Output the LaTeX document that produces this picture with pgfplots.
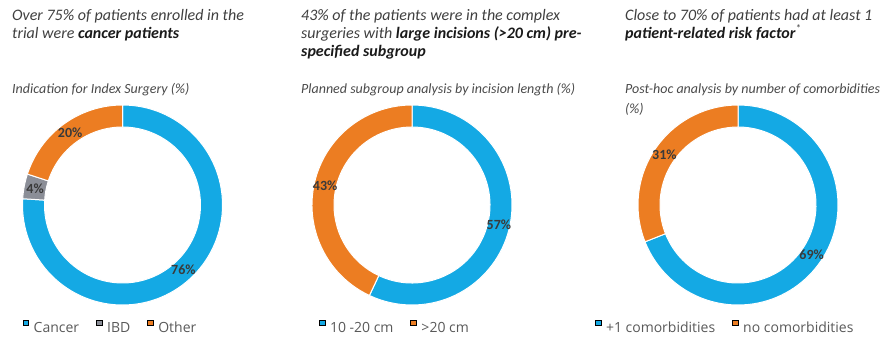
\documentclass[border=0pt]{standalone}
\usepackage{pgfplots}
\pgfplotsset{compat=1.18}
\usepackage{fontspec}
\setmainfont{Carlito}[ItalicFont={Carlito Italic}, BoldFont={Carlito Bold}, BoldItalicFont={Carlito Bold Italic}]
\newfontfamily\legendfont{Open Sans}
\usetikzlibrary{calc}

\definecolor{cblue}{HTML}{14A9E4}
\definecolor{corange}{HTML}{EC7D22}
\definecolor{cgray}{HTML}{8B8E97}
\definecolor{ctitle}{HTML}{3F3F3F}
\definecolor{csub}{HTML}{4A4A4A}
\definecolor{cbold}{HTML}{1A1A1A}
\definecolor{clabel}{HTML}{3A3A3A}
\definecolor{clegend}{HTML}{595959}

% donut segment: colour, from (%), to (%) -- clockwise from 12 o'clock
\newcommand{\donutseg}[3]{%
  \filldraw[fill=#1, draw=white, line width=1pt]
    ($(axis cs:0,0)+({90-3.6*(#2)}:100pt)$)
    arc[start angle={90-3.6*(#2)}, end angle={90-3.6*(#3)}, radius=100pt]
    -- ($(axis cs:0,0)+({90-3.6*(#3)}:78pt)$)
    arc[start angle={90-3.6*(#3)}, end angle={90-3.6*(#2)}, radius=78pt]
    -- cycle;}
% label at the middle of a segment: mid position (%), text
\newcommand{\seglabel}[2]{%
  \node[font=\fontsize{14}{14}\selectfont\bfseries, text=clabel]
    at ($(axis cs:0,0)+({90-3.6*(#1)}:89pt)$) {#2};}

\pgfplotsset{donut/.style={
  x=1pt, y=1pt, xmin=-110, xmax=110, ymin=-110, ymax=110,
  hide axis, clip=false, anchor=origin,
  legend image code/.code={\fill[##1] (0pt,2.4pt) rectangle (5.6pt,8pt);},
  legend style={draw=none, fill=none, anchor=west,
    font=\legendfont\fontsize{14}{16}\selectfont, text=clegend,
    legend columns=-1, inner sep=0pt, outer sep=0pt,
    nodes={inner sep=0pt},
    /tikz/every odd column/.style={column sep=5pt},
    /tikz/every even column/.style={column sep=17pt}},
}}

\newcommand{\titlefont}{\fontsize{16}{19}\selectfont\itshape}
\newcommand{\subfont}{\fontsize{14}{16}\selectfont\itshape}

\begin{document}
\begin{tikzpicture}
\useasboundingbox (0pt,0pt) rectangle (887pt,341pt);

% ---------- titles ----------
\begin{scope}[every node/.style={anchor=base west, inner sep=0pt, text=ctitle}]
\node[font=\titlefont] at (12pt,320.3pt) {Over 75\% of patients enrolled in the};
\node[font=\titlefont] at (12pt,302.5pt) {trial were \textbf{\color{cbold}cancer patients}};
\node[font=\subfont, text=csub] at (12pt,247.5pt) {Indication for Index Surgery (\%)};

\node[font=\titlefont] at (301pt,320.3pt) {43\% of the patients were in the complex};
\node[font=\titlefont] at (301pt,302.5pt) {surgeries with \textbf{\color{cbold}large incisions (>20 cm) pre-}};
\node[font=\titlefont] at (301pt,284pt) {\textbf{\color{cbold}specified subgroup}};
\node[font=\subfont, text=csub] at (301pt,247.5pt) {Planned subgroup analysis by incision length (\%)};

\node[font=\titlefont] at (625pt,320.3pt) {Close to 70\% of patients had at least 1};
\node[font=\titlefont] at (625pt,302.5pt) {\textbf{\color{cbold}patient-related risk factor}\textsuperscript{*}};
\node[font=\subfont, text=csub] at (625pt,247.5pt) {Post-hoc analysis by number of comorbidities};
\node[font=\subfont, text=csub] at (625pt,228pt) {(\%)};
\end{scope}

% ---------- chart 1: Cancer 76, IBD 4, Other 20 ----------
\begin{axis}[donut, at={(122.5pt,136pt)},
  legend style={at={(0.0464,-0.0534)}}]
\addlegendimage{fill=cblue}\addlegendentry{Cancer}
\addlegendimage{fill=cgray}\addlegendentry{IBD}
\addlegendimage{fill=corange}\addlegendentry{Other}
\donutseg{cblue}{0}{76}
\donutseg{cgray}{76}{80}
\donutseg{corange}{80}{100}
\seglabel{38}{76\%}
\seglabel{78}{4\%}
\seglabel{90}{20\%}
\end{axis}

% ---------- chart 2: 10-20 cm 57, >20 cm 43 ----------
\begin{axis}[donut, at={(412pt,136pt)},
  legend style={at={(0.0773,-0.0534)}}]
\addlegendimage{fill=cblue}\addlegendentry{10 -20 cm}
\addlegendimage{fill=corange}\addlegendentry{>20 cm}
\donutseg{cblue}{0}{57}
\donutseg{corange}{57}{100}
\seglabel{28.5}{57\%}
\seglabel{78.5}{43\%}
\end{axis}

% ---------- chart 3: +1 comorbidities 69, no comorbidities 31 ----------
\begin{axis}[donut, at={(738pt,136pt)},
  legend style={at={(-0.15,-0.0534)}}]
\addlegendimage{fill=cblue}\addlegendentry{+1 comorbidities}
\addlegendimage{fill=corange}\addlegendentry{no comorbidities}
\donutseg{cblue}{0}{69}
\donutseg{corange}{69}{100}
\seglabel{34.5}{69\%}
\seglabel{84.5}{31\%}
\end{axis}
\end{tikzpicture}
\end{document}
